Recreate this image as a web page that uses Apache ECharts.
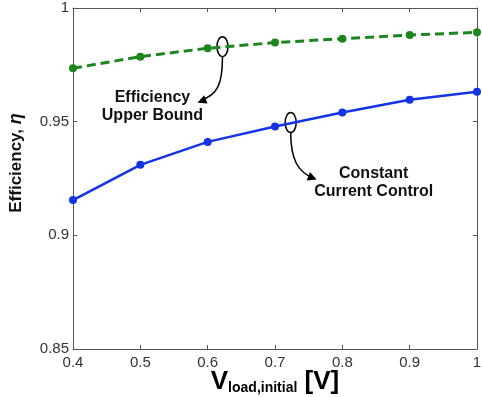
<!DOCTYPE html>
<html><head><meta charset="utf-8">
<script src="https://cdn.jsdelivr.net/npm/echarts@6/dist/echarts.min.js"></script>
<style>html,body{margin:0;padding:0;background:#fff}#c{width:482px;height:397px}</style>
</head><body><div id="c"></div>
<script>
var vload = [0.4, 0.5, 0.6, 0.7, 0.8, 0.9, 1.0];
var upperBound = [0.9735, 0.9786, 0.9823, 0.9848, 0.9865, 0.9881, 0.9893];
var constantCurrent = [0.9155, 0.931, 0.9411, 0.9479, 0.954, 0.9596, 0.9632];
var xTickLabels = ['0.4', '0.5', '0.6', '0.7', '0.8', '0.9', '1'];
var yTickLabels = ['0.85', '0.9', '0.95', '1'];

var FONT = 'Liberation Sans, Arial, sans-serif';
var GREEN = '#1c861c', BLUE = '#1434e6';
function pairs(xs, ys){ return xs.map(function(x,i){return [x, ys[i]];}); }
function xl(v){ var i = Math.round((v-0.4)/0.1); return xTickLabels[i] || ''; }
function yl(v){ var i = Math.round((v-0.85)/0.05); return yTickLabels[i] || ''; }

var axisLine = {show:true, lineStyle:{color:'#555', width:1}};
var ticks = {show:true, inside:true, length:4, lineStyle:{color:'#555'}};
var chart = echarts.init(document.getElementById('c'), null, {renderer:'canvas'});
chart.setOption({
  animation:false,
  backgroundColor:'#fff',
  grid:{left:73, right:5, top:8, bottom:48, containLabel:false, outerBoundsMode:'none'},
  xAxis:[{
    type:'value', min:0.4, max:1, interval:0.1,
    axisLine:axisLine, axisTick:ticks, splitLine:{show:false},
    axisLabel:{formatter:xl, color:'#333', fontFamily:FONT, fontSize:15, margin:6}
  },{
    type:'value', position:'top', min:0.4, max:1, interval:0.1,
    axisLine:axisLine, axisTick:ticks, axisLabel:{show:false}, splitLine:{show:false}
  }],
  yAxis:[{
    type:'value', min:0.85, max:1, interval:0.05,
    axisLine:axisLine, axisTick:ticks, splitLine:{show:false},
    axisLabel:{formatter:yl, color:'#333', fontFamily:FONT, fontSize:15, margin:4}
  },{
    type:'value', position:'right', min:0.85, max:1, interval:0.05,
    axisLine:axisLine, axisTick:ticks, axisLabel:{show:false}, splitLine:{show:false}
  }],
  series:[{
    type:'line', data:pairs(vload, upperBound), symbol:'circle', symbolSize:8,
    itemStyle:{color:GREEN}, lineStyle:{color:GREEN, width:3, type:[9,5]}
  },{
    type:'line', data:pairs(vload, constantCurrent), symbol:'circle', symbolSize:8,
    itemStyle:{color:BLUE}, lineStyle:{color:BLUE, width:2.5}
  }]
});

function arrowHead(tip, from, len, half){
  var dx = tip[0]-from[0], dy = tip[1]-from[1], d = Math.sqrt(dx*dx+dy*dy);
  var ux = dx/d, uy = dy/d, px = -uy, py = ux;
  var bx = tip[0]-ux*len, by = tip[1]-uy*len;
  return {type:'polygon', shape:{points:[tip,[bx+px*half,by+py*half],[bx-px*half,by-py*half]]}, style:{fill:'#000'}};
}
var g = chart.convertToPixel({gridIndex:0}, [0.622, 0.983]);
var b = chart.convertToPixel({gridIndex:0}, [0.7233, 0.9496]);
var gEnd = [g[0]-25, g[1]+56], bEnd = [b[0]+26, b[1]+57];
var gC2 = [g[0]-5, g[1]+48], bC2 = [b[0]+8, b[1]+50];
var txt = {fontFamily:FONT, fontWeight:'bold', fontSize:16, fill:'#111', align:'center', verticalAlign:'middle', lineHeight:18};
chart.setOption({graphic:[
  {type:'ellipse', shape:{cx:g[0], cy:g[1], rx:5.5, ry:10}, style:{fill:null, stroke:'#000', lineWidth:1.5}},
  {type:'ellipse', shape:{cx:b[0], cy:b[1], rx:5.5, ry:10}, style:{fill:null, stroke:'#000', lineWidth:1.5}},
  {type:'bezierCurve', shape:{x1:g[0], y1:g[1]+10, cpx1:g[0], cpy1:g[1]+38, cpx2:gC2[0], cpy2:gC2[1], x2:gEnd[0]+3, y2:gEnd[1]-2}, style:{stroke:'#000', lineWidth:1.5, fill:null}},
  arrowHead(gEnd, gC2, 9, 4.5),
  {type:'bezierCurve', shape:{x1:b[0], y1:b[1]+10, cpx1:b[0], cpy1:b[1]+38, cpx2:bC2[0], cpy2:bC2[1], x2:bEnd[0]-3, y2:bEnd[1]-1.5}, style:{stroke:'#000', lineWidth:1.5, fill:null}},
  arrowHead(bEnd, bC2, 9, 4.5),
  {type:'text', x:g[0]-70, y:g[1]+60, style:Object.assign({text:'Efficiency\nUpper Bound'}, txt)},
  {type:'text', x:b[0]+83, y:b[1]+60, style:Object.assign({text:'Constant\nCurrent Control'}, txt)},
  {type:'text', x:16, y:163, rotation:Math.PI/2,
    style:{text:'{a|Efficiency, }{b|η}', align:'center', verticalAlign:'middle',
      rich:{a:{fontFamily:FONT, fontWeight:'bold', fontSize:17, fill:'#111'},
            b:{fontFamily:FONT, fontWeight:'bold', fontStyle:'italic', fontSize:18, fill:'#111'}}}},
  {type:'text', x:275, y:395,
    style:{text:'{a|V}{b|load,initial}{c| [V]}', align:'center', verticalAlign:'bottom',
      rich:{a:{fontFamily:FONT, fontWeight:'bold', fontSize:26, fill:'#000', verticalAlign:'bottom', lineHeight:26},
            b:{fontFamily:FONT, fontWeight:'bold', fontSize:14, fill:'#000', verticalAlign:'bottom', lineHeight:23},
            c:{fontFamily:FONT, fontWeight:'bold', fontSize:26, fill:'#000', verticalAlign:'bottom', lineHeight:26}}}}
]});
</script>
</body></html>
